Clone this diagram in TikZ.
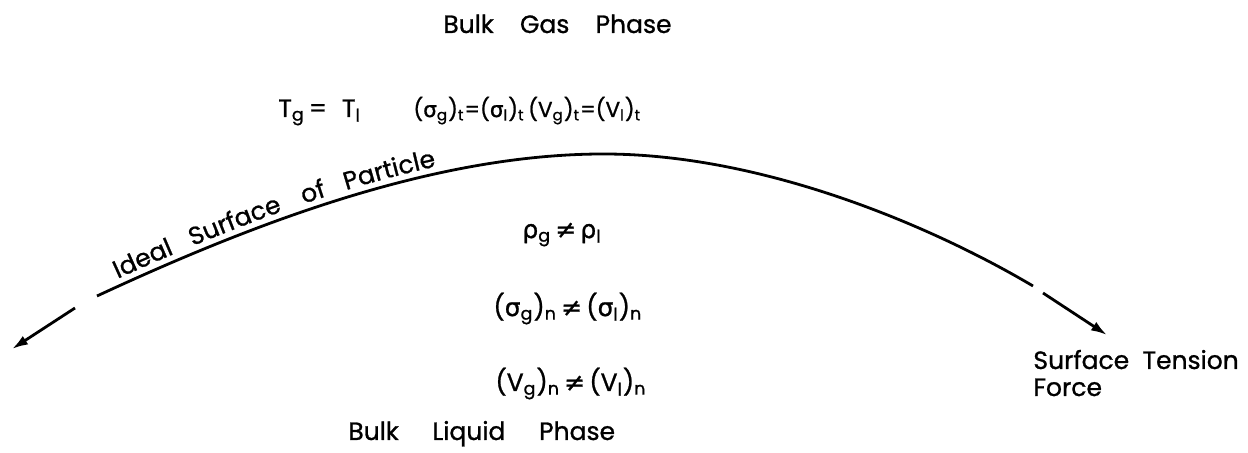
\documentclass[tikz,border=0pt]{standalone}
\usepackage{fontspec}
\setmainfont{Poppins}[FakeBold=1]
\newfontfamily\grk{DejaVu Sans}[FakeBold=1]
\usetikzlibrary{arrows.meta,decorations.text}
\newcommand{\sg}{{\grk σ}}
\newcommand{\rh}{{\grk ρ}}
\newcommand{\nq}{{\grk ≠}}
\newcommand{\dn}[1]{\textsubscript{#1}}

\begin{document}
\begin{tikzpicture}[x=0.5pt,y=-0.5pt,
  lbl/.style={inner sep=0pt,anchor=base west,font=\fontsize{12.5}{13.5}\selectfont},
  surf/.style={line width=1.4pt},
  force/.style={line width=1.4pt,-{Latex[length=8pt,width=5pt]}}]
\useasboundingbox (0,0) rectangle (1248,453);
\node[lbl] (gas) at (443,33) {Bulk\hspace{1.05em}Gas\hspace{1.05em}Phase};
\node[lbl] (tgtl) at (278,117) {T\dn{g}\,=\hspace{0.6em}T\dn{l}};
\node[lbl,font=\fontsize{10.8}{13}\selectfont] (tang) at (413,117) {(\sg\dn{g})\dn{t}=(\sg\dn{l})\dn{t}\,(V\dn{g})\dn{t}=(V\dn{l})\dn{t}};
\node[lbl] (rho) at (522,238) {\rh\dn{g}\,\nq\,\rh\dn{l}};
\node[lbl] (sign) at (493,316) {(\sg\dn{g})\dn{n}\,\nq\,(\sg\dn{l})\dn{n}};
\node[lbl] (vn) at (495,391) {(V\dn{g})\dn{n}\,\nq\,(V\dn{l})\dn{n}};
\node[lbl] (liq) at (348,440) {Bulk\hspace{1.35em}Liquid\hspace{1.35em}Phase};
\node[lbl,align=left] (ten) at (1033,396) {Surface\ \ Tension\\Force};
\coordinate (sl) at (97,296);
\coordinate (top) at (600,154);
\coordinate (sr) at (1033,286);
\coordinate (al) at (75,308);
\coordinate (tl) at (12,349);
\coordinate (ar) at (1043,293);
\coordinate (tr) at (1107,335);
\draw[surf] (sl) .. controls (250,225) and (430,155) .. (top) .. controls (760,153) and (930,225) .. (sr);
\path[decorate,decoration={text along path,raise=3.5pt,text align={left indent=13pt},
  text={|\fontsize{12.5}{13.5}\selectfont|Ideal{\hspace{0.8em}}Surface{\hspace{0.9em}}of{\hspace{0.8em}}Particle}}]
  (sl) .. controls (250,225) and (430,155) .. (top);
\draw[force] (al) -- (tl);
\draw[force] (ar) -- (tr);
\end{tikzpicture}
\end{document}
